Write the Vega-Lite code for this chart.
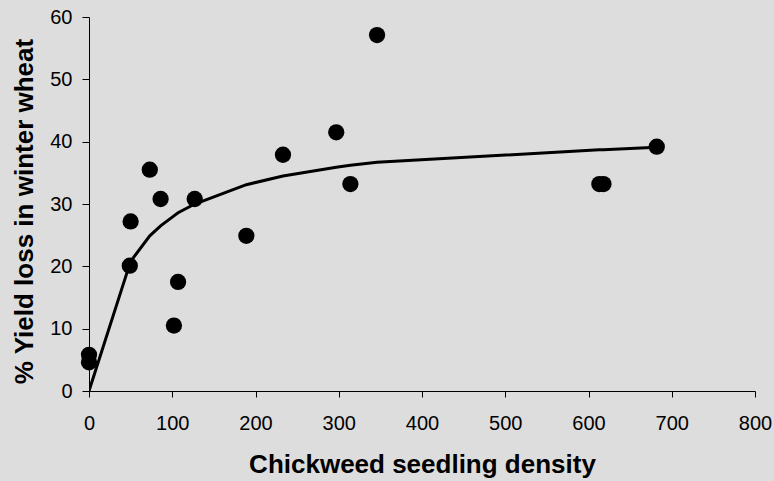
{
  "$schema": "https://vega.github.io/schema/vega-lite/v6.json",
  "width": 666,
  "height": 374,
  "autosize": "none",
  "padding": {"left": 89, "top": 17, "right": 19, "bottom": 90},
  "background": "#DDDDDD",
  "config": {
    "view": {"stroke": null},
    "font": "Liberation Sans",
    "axis": {
      "grid": false,
      "domainColor": "#000000",
      "domainWidth": 1,
      "tickColor": "#000000",
      "tickWidth": 1,
      "labelFlush": false,
      "labelFont": "Liberation Sans",
      "labelFontSize": 20,
      "labelColor": "#000000",
      "titleFont": "Liberation Sans",
      "titleFontSize": 26,
      "titleFontWeight": "bold",
      "titleColor": "#000000"
    }
  },
  "datasets": {
    "obs": [
      {"density": 0, "loss": 5.8},
      {"density": 0, "loss": 4.6},
      {"density": 49, "loss": 20.1},
      {"density": 50, "loss": 27.2},
      {"density": 73, "loss": 35.5},
      {"density": 86, "loss": 30.8},
      {"density": 102, "loss": 10.5},
      {"density": 107, "loss": 17.5},
      {"density": 127, "loss": 30.8},
      {"density": 189, "loss": 24.9},
      {"density": 233, "loss": 37.9},
      {"density": 297, "loss": 41.5},
      {"density": 314, "loss": 33.2},
      {"density": 346, "loss": 57.1},
      {"density": 613, "loss": 33.2},
      {"density": 618, "loss": 33.2},
      {"density": 682, "loss": 39.2}
    ],
    "fit": [
      {"density": 0, "fitted": 0},
      {"density": 49, "fitted": 20.4},
      {"density": 50, "fitted": 20.8},
      {"density": 73, "fitted": 24.9},
      {"density": 86, "fitted": 26.5},
      {"density": 102, "fitted": 28.1},
      {"density": 107, "fitted": 28.6},
      {"density": 127, "fitted": 30.0},
      {"density": 189, "fitted": 33.1},
      {"density": 233, "fitted": 34.5},
      {"density": 297, "fitted": 35.9},
      {"density": 314, "fitted": 36.2},
      {"density": 346, "fitted": 36.7},
      {"density": 613, "fitted": 38.7},
      {"density": 618, "fitted": 38.7},
      {"density": 682, "fitted": 39.1}
    ]
  },
  "layer": [
    {
      "data": {"name": "fit"},
      "mark": {"type": "line", "color": "#000000", "strokeWidth": 3, "clip": true},
      "encoding": {
        "x": {
          "field": "density", "type": "quantitative",
          "scale": {"domain": [0, 800], "nice": false, "zero": false},
          "axis": {"title": "Chickweed seedling density", "values": [0,100,200,300,400,500,600,700,800], "tickSize": 6, "labelPadding": 16, "titlePadding": 18}
        },
        "y": {
          "field": "fitted", "type": "quantitative",
          "scale": {"domain": [0, 60], "nice": false},
          "axis": {"title": "% Yield loss in winter wheat", "values": [0,10,20,30,40,50,60], "tickSize": 7, "labelPadding": 10, "titlePadding": 12, "titleY": 194}
        }
      }
    },
    {
      "data": {"name": "obs"},
      "mark": {"type": "point", "filled": true, "color": "#000000", "size": 265, "opacity": 1, "shape": "circle"},
      "encoding": {
        "x": {"field": "density", "type": "quantitative"},
        "y": {"field": "loss", "type": "quantitative"}
      }
    }
  ]
}
